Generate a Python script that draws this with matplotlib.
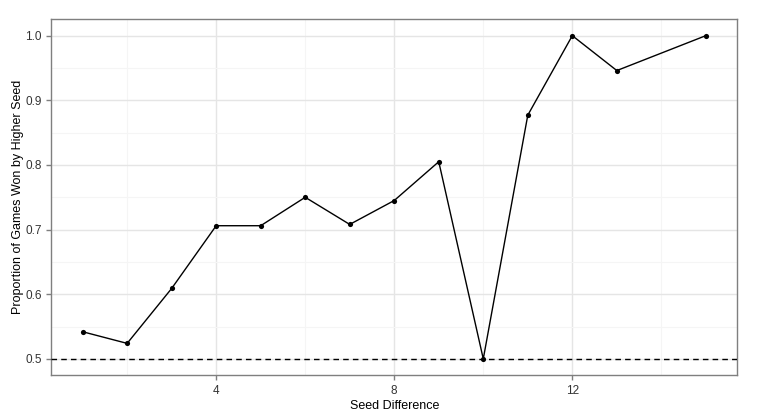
import matplotlib
matplotlib.use("Agg")
import matplotlib.pyplot as plt
from matplotlib.ticker import MultipleLocator

seed_diff = [1, 2, 3, 4, 5, 6, 7, 8, 9, 10, 11, 12, 13, 15]
prop_won = [0.542, 0.524, 0.609, 0.706, 0.706, 0.750, 0.708, 0.745, 0.805,
            0.500, 0.877, 1.000, 0.946, 1.000]
x_ticks = [4, 8, 12]
y_ticks = [0.5, 0.6, 0.7, 0.8, 0.9, 1.0]

plt.rcParams["font.family"] = ["Liberation Sans", "DejaVu Sans"]

fig = plt.figure(figsize=(7.57, 4.2), dpi=100)
ax = fig.add_axes([0.068, 0.107, 0.9056, 0.8466])

ax.axhline(0.5, color="black", lw=1.0, ls=(0, (4, 3)), zorder=3)
ax.plot(seed_diff, prop_won, color="black", lw=1.0, zorder=4)
ax.scatter(seed_diff, prop_won, s=14, color="black", zorder=5, linewidths=0)

ax.set_xlim(0.3, 15.7)
ax.set_ylim(0.475, 1.025)
ax.set_xticks(x_ticks)
ax.set_yticks(y_ticks)
ax.set_yticklabels([f"{v:.1f}" for v in y_ticks])
ax.xaxis.set_minor_locator(MultipleLocator(2))
ax.yaxis.set_minor_locator(MultipleLocator(0.05))

ax.grid(which="major", color="#E5E5E5", lw=1.0, zorder=0)
ax.grid(which="minor", color="#F5F5F5", lw=0.8, zorder=0)
ax.set_axisbelow(True)

for s in ax.spines.values():
    s.set_color("#7F7F7F")
    s.set_linewidth(1.0)

ax.tick_params(which="major", length=3.5, color="#7F7F7F", labelsize=8.5,
               labelcolor="#333333", width=1.0)
ax.tick_params(which="minor", length=0)

ax.set_xlabel("Seed Difference", fontsize=9, labelpad=2)
ax.set_ylabel("Proportion of Games Won by Higher Seed", fontsize=9, labelpad=1)

fig.savefig("out.png", dpi=100)
